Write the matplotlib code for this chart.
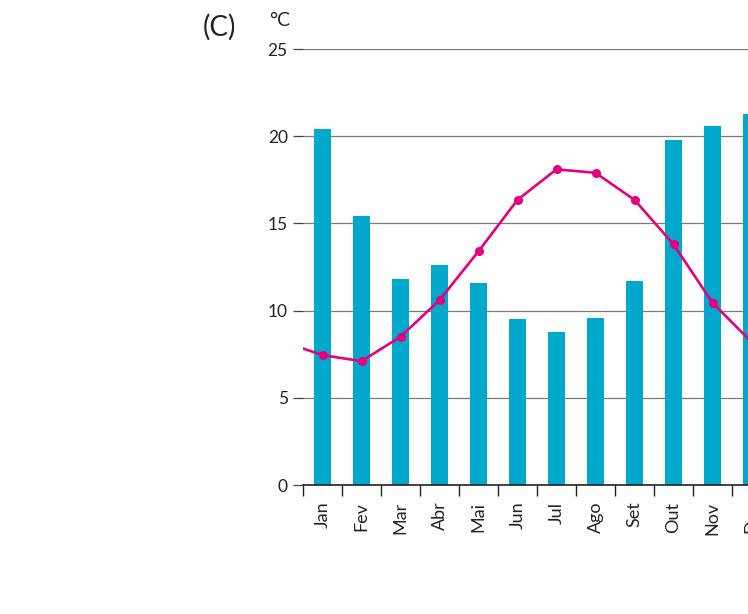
import numpy as np
import matplotlib
matplotlib.use("Agg")
import matplotlib.pyplot as plt

plt.rcParams['font.family'] = ['Lato', 'DejaVu Sans']

months = ["Jan", "Fev", "Mar", "Abr", "Mai", "Jun", "Jul", "Ago", "Set", "Out", "Nov", "Dez"]
bars = [20.4, 15.4, 11.8, 12.6, 11.6, 9.5, 8.8, 9.6, 11.7, 19.8, 20.6, 21.3]
temps = [7.45, 7.1, 8.5, 10.6, 13.4, 16.35, 18.1, 17.9, 16.35, 13.8, 10.45, 8.2]

BAR_COLOR = "#00a9cc"
LINE_COLOR = "#e6007e"

fig = plt.figure(figsize=(7.48, 6.14), dpi=100)
# axes runs past the right edge of the figure, as in the reference
ax = fig.add_axes([303 / 748, 129 / 614, 468 / 748, 436 / 614])

x = np.arange(len(months))
ax.bar(x, bars, width=0.44, color=BAR_COLOR, zorder=2)

# wrap the line around the year (Dec before Jan, Jan after Dec); clipped by the axes
xl = np.concatenate(([-1], x, [12]))
yl = [temps[-1]] + temps + [temps[0]]
ax.plot(xl, yl, color=LINE_COLOR, lw=1.9, zorder=3)
ax.plot(x, temps, "o", color=LINE_COLOR, ms=5.5, zorder=4)

ax.set_xlim(-0.5, 11.5)
ax.set_ylim(0, 25)
ax.set_yticks([0, 5, 10, 15, 20, 25])
ax.yaxis.grid(True, color="#7a7a7a", lw=0.9, zorder=0)
ax.set_axisbelow(True)

ax.set_xticks(x)
ax.set_xticklabels(months, rotation=90, fontsize=13, color="#222222")
ax.set_xticks(np.arange(-0.5, 12, 1), minor=True)
ax.tick_params(axis="x", which="major", length=0, pad=12)
ax.tick_params(axis="x", which="minor", length=8, width=1, color="#222222")
ax.tick_params(axis="y", length=7, width=0.9, color="#444444", labelsize=12.5,
               labelcolor="#222222", pad=4)

for s in ["top", "right", "left"]:
    ax.spines[s].set_visible(False)
ax.spines["bottom"].set_color("#222222")
ax.spines["bottom"].set_linewidth(1.2)

fig.text(203 / 748, 1 - 27 / 614, "(C)", fontsize=20, color="#222222", va="center")
fig.text(269 / 748, 1 - 20 / 614, "°C", fontsize=14, color="#222222", va="center")

fig.savefig("out.png", dpi=100)
